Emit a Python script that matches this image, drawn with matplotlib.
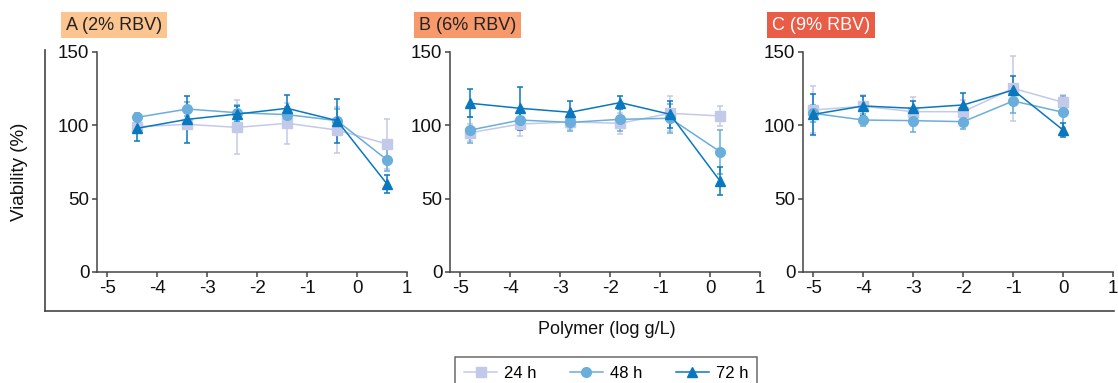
import matplotlib
matplotlib.use("Agg")
import matplotlib.pyplot as plt
from matplotlib.lines import Line2D

plt.rcParams['font.family'] = ['Liberation Sans', 'DejaVu Sans']
plt.rcParams['axes.unicode_minus'] = False

# x positions (log g/L) for each panel
x_a = [-4.4, -3.4, -2.4, -1.4, -0.4, 0.6]
x_b = [-4.8, -3.8, -2.8, -1.8, -0.8, 0.2]
x_c = [-5, -4, -3, -2, -1, 0]

# panel A (2% RBV)
a_24 = [99, 100.7, 98.6, 101.4, 96.8, 87.3]
a_24_err = [3, 3, 18.4, 14, 16, 17]
a_48 = [105.5, 111.1, 108.6, 107.3, 103.2, 76.4]
a_48_err = [3, 5, 5, 5, 8, 7.5]
a_72 = [98, 104.1, 107.7, 111.6, 103.2, 60]
a_72_err = [9, 16, 5.5, 9, 15, 6]

# panel B (6% RBV)
b_24 = [95, 100.9, 102.3, 101.4, 108.2, 106.4]
b_24_err = [6, 8, 5, 7, 12, 7]
b_48 = [96.8, 103.6, 102, 104.1, 104.8, 82]
b_48_err = [9, 7, 6, 8, 10, 15]
b_72 = [115, 111.6, 108.9, 115.5, 107.5, 62]
b_72_err = [9.5, 14.5, 8, 4.7, 9, 9.5]

# panel C (9% RBV)
c_24 = [110.5, 113, 109.3, 109.3, 125.2, 115.7]
c_24_err = [16, 8, 10, 8, 22, 5]
c_48 = [108.2, 103.6, 103.2, 102.5, 116.6, 108.9]
c_48_err = [6, 4, 8, 5, 8, 11]
c_72 = [107.5, 113.2, 111.6, 113.9, 124.1, 96.8]
c_72_err = [14, 7, 5.2, 8.4, 9.5, 4.6]

panels = [
    ("A (2% RBV)", '#FCC48F', '#222222', x_a,
     [(a_24, a_24_err), (a_48, a_48_err), (a_72, a_72_err)]),
    ("B (6% RBV)", '#F8996C', '#222222', x_b,
     [(b_24, b_24_err), (b_48, b_48_err), (b_72, b_72_err)]),
    ("C (9% RBV)", '#E95C45', 'white', x_c,
     [(c_24, c_24_err), (c_48, c_48_err), (c_72, c_72_err)]),
]

series_labels = ['24 h', '48 h', '72 h']
series_colors = ['#C3C9E8', '#6AAEDB', '#0A78BE']
series_markers = ['s', 'o', '^']
series_sizes = [6.5, 7, 7.5]

W, H = 1118, 383
spine_col = '#444444'

fig = plt.figure(figsize=(W / 100, H / 100), dpi=100)

# outer frame (left + bottom lines)
fig.add_artist(Line2D([45 / W, 45 / W], [1 - 50 / H, 1 - 311 / H],
                      color=spine_col, lw=1.2))
fig.add_artist(Line2D([45 / W, 1114 / W], [1 - 311 / H, 1 - 311 / H],
                      color=spine_col, lw=1.2))

lefts = [97, 450, 803]
for left, (title, box_col, txt_col, xs, data) in zip(lefts, panels):
    ax = fig.add_axes([left / W, 1 - 272 / H, 310 / W, 220 / H])
    for (vals, errs), col, mk, ms in zip(data, series_colors, series_markers, series_sizes):
        ax.errorbar(xs, vals, yerr=errs, color=col, marker=mk, markersize=ms,
                    lw=1.1, elinewidth=1.1, capsize=2.5, capthick=1.1)
    ax.set_xlim(-5.21, 1.0)
    ax.set_ylim(0, 150)
    ax.set_xticks([-5, -4, -3, -2, -1, 0, 1])
    ax.set_yticks([0, 50, 100, 150])
    ax.spines['top'].set_visible(False)
    ax.spines['right'].set_visible(False)
    for s in ('left', 'bottom'):
        ax.spines[s].set_color(spine_col)
        ax.spines[s].set_linewidth(1.1)
    ax.tick_params(direction='out', length=3.5, width=1.1, color=spine_col,
                   labelsize=13.5, labelcolor='#111111', pad=2)
    fig.text((left - 31) / W, 1 - 25 / H, title, fontsize=13, color=txt_col,
             ha='left', va='center',
             bbox=dict(boxstyle='square,pad=0.25', fc=box_col, ec='none'))

fig.text(20 / W, 1 - 172 / H, 'Viability (%)', rotation=90, fontsize=13.5,
         ha='center', va='center', color='#111111')
fig.text(607 / W, 1 - 330 / H, 'Polymer (log g/L)', fontsize=13,
         ha='center', va='center', color='#111111')

handles = [Line2D([], [], color=c, marker=m, markersize=s, lw=1.1)
           for c, m, s in zip(series_colors, series_markers, series_sizes)]
leg = fig.legend(handles, series_labels, loc='upper center', ncol=3,
                 bbox_to_anchor=(606 / W, 1 - 357 / H), fontsize=12,
                 frameon=True, fancybox=False, edgecolor=spine_col,
                 handlelength=2.0, columnspacing=2.0, handletextpad=0.4,
                 borderpad=0.55, borderaxespad=0)
leg.get_frame().set_linewidth(1.1)

fig.savefig('out.png', dpi=100)
